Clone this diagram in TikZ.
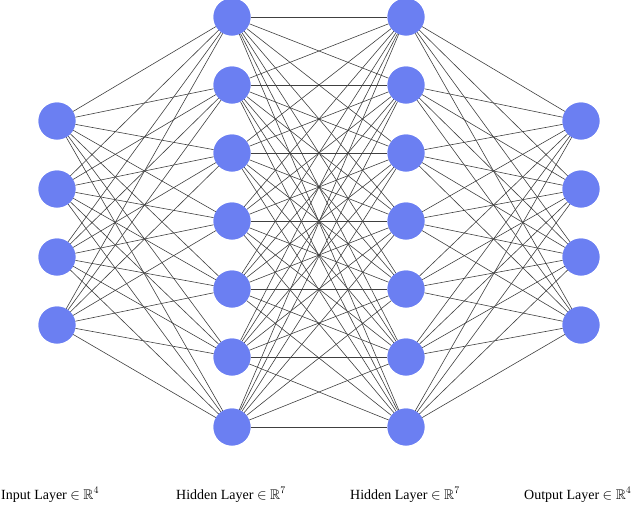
\documentclass[tikz,border=0pt]{standalone}
\usepackage{amssymb}
\usepackage{fontspec}
\setmainfont{Liberation Serif}
\begin{document}
\begin{tikzpicture}[x=1pt,y=-1pt,
  neuron/.style={circle,fill=nodeblue,minimum size=37pt,inner sep=0pt},
  conn/.style={draw=black!75,line width=0.6pt},
  lab/.style={font=\fontsize{14}{16}\selectfont,anchor=base west,inner sep=0pt}]
\definecolor{nodeblue}{HTML}{6B7FF2}
\useasboundingbox (0,0) rectangle (640,509);
\clip (0,0) rectangle (640,509);
\foreach \i/\y in {1/121,2/189,3/257,4/325}{
  \node[neuron] (a\i) at (57,\y) {};
  \node[neuron] (d\i) at (581,\y) {};}
\foreach \i/\y in {1/17,2/85,3/153,4/221,5/289,6/357,7/427}{
  \node[neuron] (b\i) at (232,\y) {};
  \node[neuron] (c\i) at (406,\y) {};}
\begin{scope}[on background layer/.style={}]
\foreach \i in {1,...,4}\foreach \j in {1,...,7}{
  \path[conn] (a\i) -- (b\j);
  \path[conn] (c\j) -- (d\i);}
\foreach \i in {1,...,7}\foreach \j in {1,...,7}{
  \path[conn] (b\i) -- (c\j);}
\end{scope}
\foreach \i in {1,...,4}{\node[neuron] at (a\i) {};\node[neuron] at (d\i) {};}
\foreach \i in {1,...,7}{\node[neuron] at (b\i) {};\node[neuron] at (c\i) {};}
\node[lab] (l1) at (1,499) {Input Layer $\in$ $\mathbb{R}^{4}$};
\node[lab] (l2) at (176,499) {Hidden Layer $\in$ $\mathbb{R}^{7}$};
\node[lab] (l3) at (350,499) {Hidden Layer $\in$ $\mathbb{R}^{7}$};
\node[lab] (l4) at (524,499) {Output Layer $\in$ $\mathbb{R}^{4}$};
\end{tikzpicture}
\end{document}
